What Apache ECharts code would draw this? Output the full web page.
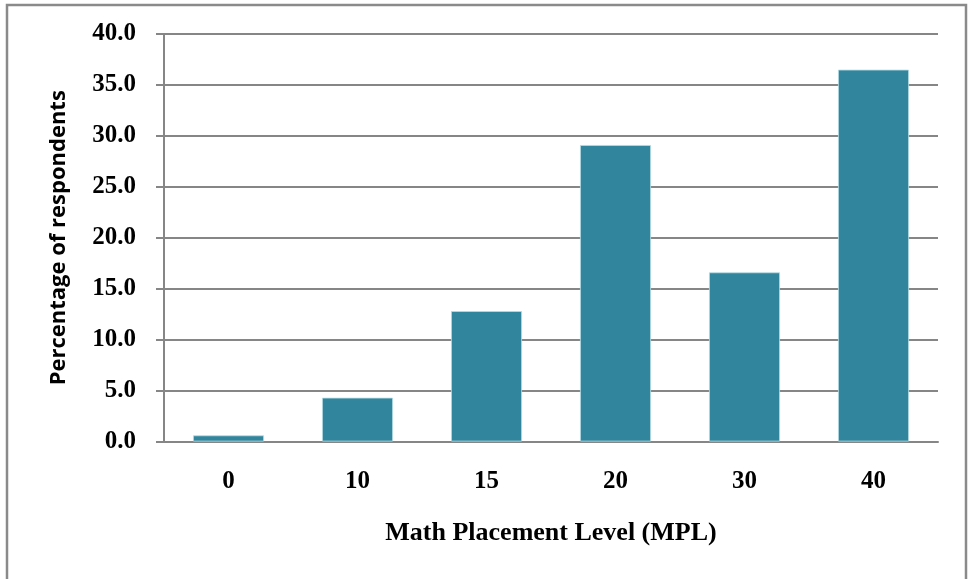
<!DOCTYPE html>
<html>
<head>
<meta charset="utf-8">
<script src="https://cdn.jsdelivr.net/npm/echarts@6/dist/echarts.min.js"></script>
<style>
  html, body { margin: 0; padding: 0; background: #fff; }
  #chart { width: 969px; height: 579px; }
</style>
</head>
<body>
<div id="chart"></div>
<script>
// Math Placement Level distribution
const categories = ['0', '10', '15', '20', '30', '40'];
const percentages = [0.6, 4.3, 12.8, 29.1, 16.6, 36.5];
const yTicks = { min: 0, max: 40, interval: 5 };

const chart = echarts.init(document.getElementById('chart'));
const serif = '"Liberation Serif", "Times New Roman", serif';

chart.setOption({
  animation: false,
  graphic: [{
    type: 'rect',
    shape: { x: 7, y: 5, width: 959, height: 600 },
    style: { fill: 'none', stroke: '#8a8a8a', lineWidth: 2.5 },
    silent: true
  }],
  grid: { left: 164, right: 31, top: 34, bottom: 137.5 },
  xAxis: {
    type: 'category',
    data: categories,
    axisLine: { lineStyle: { color: '#868686', width: 2 } },
    axisTick: { show: false },
    axisLabel: {
      fontFamily: serif, fontWeight: 'bold', fontSize: 25, color: '#000',
      margin: 28
    },
    name: 'Math Placement Level (MPL)',
    nameLocation: 'middle',
    nameGap: 79,
    nameTextStyle: { fontFamily: serif, fontWeight: 'bold', fontSize: 26, color: '#000' }
  },
  yAxis: {
    type: 'value',
    min: yTicks.min, max: yTicks.max, interval: yTicks.interval,
    axisLine: { show: true, lineStyle: { color: '#868686', width: 2 } },
    axisTick: { show: true, inside: false, length: 8, lineStyle: { color: '#868686', width: 2 } },
    splitLine: { lineStyle: { color: '#868686', width: 2 } },
    axisLabel: {
      fontFamily: serif, fontWeight: 'bold', fontSize: 25, color: '#000',
      margin: 28,
      formatter: v => v.toFixed(1)
    },
    name: 'Percentage of respondents',
    nameLocation: 'middle',
    nameGap: 94,
    nameTextStyle: { fontFamily: '"Open Sans", "Noto Sans", sans-serif', fontWeight: 'bold', fontSize: 22, color: '#000' }
  },
  series: [{
    type: 'bar',
    data: percentages,
    barCategoryGap: '45%',
    itemStyle: { color: '#31859c', borderColor: '#b8dce4', borderWidth: 0.8 }
  }]
});
</script>
</body>
</html>
